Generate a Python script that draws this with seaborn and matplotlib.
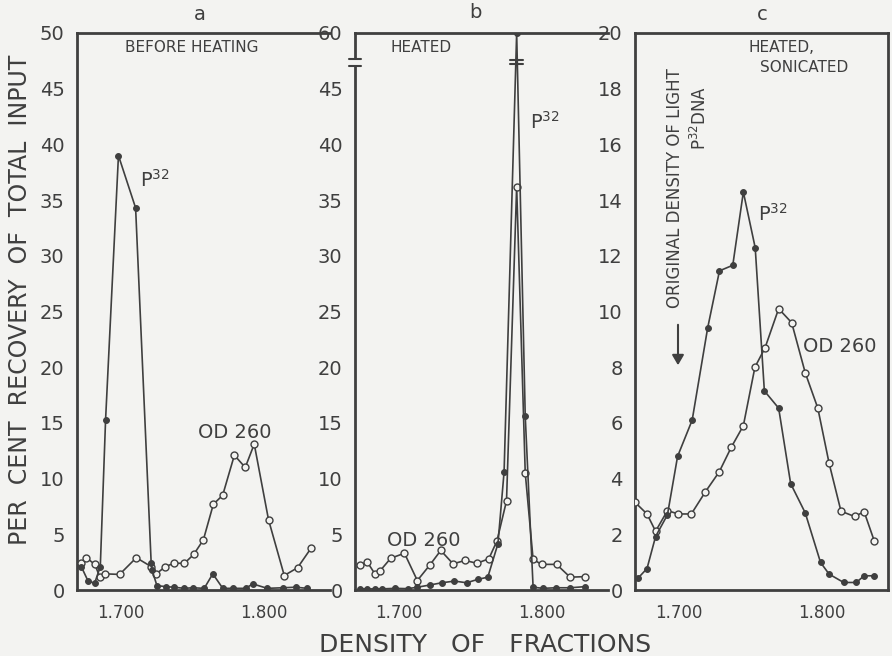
import numpy as np
import pandas as pd
import matplotlib
matplotlib.use("Agg")
import matplotlib.pyplot as plt
import seaborn as sns

# ---------------- data ----------------
# panel a: before heating
a_p32_x = [1.672, 1.6766, 1.6813, 1.6853, 1.689, 1.698, 1.710, 1.7209, 1.7215, 1.7249,
           1.731, 1.737, 1.744, 1.750, 1.758, 1.764, 1.771, 1.778, 1.787, 1.792,
           1.802, 1.813, 1.822, 1.830]
a_p32_y = [2.1, 0.84, 0.6, 2.1, 15.3, 39.0, 34.3, 2.4, 1.8, 0.4,
           0.3, 0.25, 0.15, 0.2, 0.15, 1.45, 0.15, 0.15, 0.15, 0.55,
           0.15, 0.2, 0.25, 0.15]
a_od_x = [1.672, 1.6756, 1.6814, 1.6849, 1.6884, 1.6988, 1.7105, 1.7209, 1.7244, 1.7309,
          1.7367, 1.7442, 1.7507, 1.7574, 1.7644, 1.7709, 1.7791, 1.7867, 1.7930, 1.8030,
          1.8140, 1.8233, 1.8330]
a_od_y = [2.4, 2.9, 2.3, 1.2, 1.45, 1.4, 2.9, 2.1, 1.45, 2.1,
          2.4, 2.4, 3.2, 4.5, 7.7, 8.5, 12.1, 11.0, 13.1, 6.3,
          1.3, 2.0, 3.8]

# panel b: heated
b_p32_x = [1.6726, 1.6774, 1.6829, 1.6881, 1.6971, 1.706, 1.7126, 1.7214, 1.7298, 1.7386,
           1.7471, 1.7548, 1.7619, 1.769, 1.7733, 1.7821, 1.7881, 1.7936, 1.8005, 1.8095,
           1.8195, 1.8298]
b_p32_y = [0.1, 0.1, 0.1, 0.1, 0.15, 0.12, 0.25, 0.45, 0.65, 0.8,
           0.65, 0.95, 1.15, 4.15, 10.6, 60.0, 15.6, 0.25, 0.15, 0.2,
           0.2, 0.3]
b_od_x = [1.6726, 1.6774, 1.6829, 1.6864, 1.694, 1.7036, 1.7126, 1.7214, 1.729, 1.7376,
          1.746, 1.7543, 1.7626, 1.7683, 1.775, 1.7821, 1.7881, 1.7936, 1.7995, 1.810,
          1.8195, 1.8298]
b_od_y = [2.2, 2.55, 1.45, 1.7, 2.85, 3.3, 0.85, 2.25, 3.55, 2.35,
          2.65, 2.4, 2.8, 4.4, 8.0, 36.2, 10.5, 2.75, 2.3, 2.3,
          1.15, 1.2]

# panel c: heated, sonicated
c_p32_x = [1.671, 1.6774, 1.6834, 1.6917, 1.6988, 1.709, 1.7198, 1.7281, 1.7374, 1.7448,
           1.7531, 1.7595, 1.7695, 1.7779, 1.7881, 1.7988, 1.8048, 1.815, 1.8238, 1.8293,
           1.8364]
c_p32_y = [0.42, 0.77, 1.92, 2.7, 4.8, 6.1, 9.4, 11.46, 11.66, 14.29,
           12.29, 7.15, 6.53, 3.82, 2.77, 0.99, 0.57, 0.27, 0.27, 0.51,
           0.51]
c_od_x = [1.669, 1.6774, 1.6834, 1.6917, 1.6993, 1.7084, 1.7183, 1.7279, 1.7364, 1.7448,
          1.7529, 1.760, 1.7695, 1.7786, 1.7881, 1.7969, 1.8048, 1.8131, 1.8226, 1.8293,
          1.8364]
c_od_y = [3.15, 2.73, 2.11, 2.85, 2.73, 2.73, 3.53, 4.24, 5.13, 5.9,
          8.0, 8.7, 10.1, 9.6, 7.8, 6.53, 4.55, 2.83, 2.64, 2.81,
          1.76]

panel_letters = ["a", "b", "c"]
panel_titles = ["BEFORE HEATING", "HEATED", "HEATED,", "SONICATED"]
x_ticklabels = ["1.700", "1.800"]
y_label = "PER  CENT  RECOVERY  OF  TOTAL  INPUT"
x_label = "DENSITY   OF   FRACTIONS"

# ---------------- style ----------------
sns.set_theme(style="white")
BG = "#f3f3f1"
INK = "#3f3f3f"
plt.rcParams["font.family"] = ["DejaVu Sans"]
plt.rcParams["mathtext.fontset"] = "dejavusans"
plt.rcParams["text.color"] = INK
plt.rcParams["axes.edgecolor"] = INK
plt.rcParams["xtick.color"] = INK
plt.rcParams["ytick.color"] = INK

W, H = 892, 656
fig = plt.figure(figsize=(W / 100, H / 100), dpi=100, facecolor=BG)

bottom_px, top_px = 590, 33
def rect(left_px, width_px):
    return [left_px / W, (H - bottom_px) / H, width_px / W, (bottom_px - top_px) / H]

ax_a = fig.add_axes(rect(77, 253))
ax_b = fig.add_axes(rect(355, 253))
ax_c = fig.add_axes(rect(635, 253))
axes = [ax_a, ax_b, ax_c]

XLIM = (1.669, 1.846)

def draw(ax, px, py, ox, oy):
    sns.lineplot(x=ox, y=oy, ax=ax, sort=False, estimator=None, color=INK, lw=1.2,
                 marker="o", markersize=5, markerfacecolor=BG, markeredgecolor=INK,
                 markeredgewidth=1.0, zorder=3)
    sns.lineplot(x=px, y=py, ax=ax, sort=False, estimator=None, color=INK, lw=1.2,
                 marker="o", markersize=4.2, markerfacecolor=INK, markeredgecolor=INK,
                 zorder=4)

draw(ax_a, a_p32_x, a_p32_y, a_od_x, a_od_y)

# panel b uses a broken axis: 45 -> 60 compressed
def fwd(v):
    v = np.asarray(v, dtype=float)
    return np.where(v <= 45, v, 45 + (v - 45) / 3.0)
def inv(v):
    v = np.asarray(v, dtype=float)
    return np.where(v <= 45, v, 45 + (v - 45) * 3.0)
ax_b.set_yscale("function", functions=(fwd, inv))
draw(ax_b, b_p32_x, b_p32_y, b_od_x, b_od_y)
draw(ax_c, c_p32_x, c_p32_y, c_od_x, c_od_y)

for ax in axes:
    ax.set_facecolor(BG)
    ax.set_xlim(*XLIM)
    ax.set_xlabel("")
    ax.set_ylabel("")
    for s in ax.spines.values():
        s.set_linewidth(2.0)
        s.set_color(INK)
    ax.spines["right"].set_visible(False)
    ax.xaxis.set_ticks([1.70, 1.80])
    ax.set_xticklabels(x_ticklabels, fontsize=12)
    ax.xaxis.set_minor_locator(matplotlib.ticker.FixedLocator(
        [1.67 + 0.01 * i for i in range(18) if i not in (3, 13)]))
    ax.tick_params(axis="x", which="major", direction="out", length=7, width=1.6, pad=3)
    ax.tick_params(axis="x", which="minor", direction="out", length=4, width=1.4)
    ax.tick_params(axis="y", which="major", direction="out", length=8, width=1.6,
                   labelsize=14, pad=1)
    ax.tick_params(axis="y", which="minor", length=0)

ax_c.spines["right"].set_visible(True)

ax_a.set_ylim(0, 50)
ax_a.set_yticks(list(range(0, 51, 5)))
ax_a.set_yticklabels([str(v) for v in range(0, 51, 5)])

ax_b.set_ylim(0, 60)
ax_b.set_yticks(list(range(0, 46, 5)) + [60])
ax_b.set_yticklabels([str(v) for v in list(range(0, 46, 5)) + [60]])

ax_c.set_ylim(0, 20)
ax_c.set_yticks(list(range(0, 21, 2)))
ax_c.set_yticklabels([str(v) for v in range(0, 21, 2)])

# axis break marks for panel b
brk_y = fwd(52.0) / 50.0
ax_b.add_patch(plt.Rectangle((-0.03, brk_y - 0.006), 0.06, 0.012, transform=ax_b.transAxes,
                             facecolor=BG, edgecolor="none", clip_on=False, zorder=5))
for dy in (-0.006, 0.006):
    ax_b.plot([-0.025, 0.025], [brk_y + dy] * 2, transform=ax_b.transAxes, color=INK,
              lw=1.5, clip_on=False, zorder=6)
peak_x = b_p32_x[int(np.argmax(b_p32_y))]
for yy in (51.6, 52.6):
    ax_b.plot([peak_x - 0.0045, peak_x + 0.0045], [yy, yy], color=INK, lw=1.5, zorder=6)

# ---------------- annotations ----------------
def ftext(xp, yp, s, **kw):
    fig.text(xp / W, 1 - yp / H, s, **kw)

for xp, yp, s in zip([200, 475, 762], [14, 12, 14], panel_letters):
    ftext(xp, yp, s, fontsize=14, ha="center", va="center", color=INK)

ftext(192, 48, panel_titles[0], fontsize=11, ha="center", va="center")
ftext(421, 47, panel_titles[1], fontsize=11, ha="center", va="center")
ftext(748, 47, panel_titles[2], fontsize=11, ha="left", va="center")
ftext(760, 68, panel_titles[3], fontsize=11, ha="left", va="center")

for xp, yp in [(155, 180), (545, 122), (773, 214)]:
    ftext(xp, yp, r"P$^{32}$", fontsize=14, ha="center", va="center")
for xp, yp in [(235, 432), (424, 540), (840, 347)]:
    ftext(xp, yp, "OD 260", fontsize=14, ha="center", va="center")

ftext(675, 188, "ORIGINAL DENSITY OF LIGHT", fontsize=12, rotation=90,
      ha="center", va="center")
ftext(700, 118, r"P$^{32}$DNA", fontsize=12, rotation=90, ha="center", va="center")
fig.add_artist(matplotlib.patches.FancyArrowPatch(
    (678 / W, 1 - 322 / H), (678 / W, 1 - 368 / H), transform=fig.transFigure,
    arrowstyle="-|>,head_length=6,head_width=3.5", color=INK, lw=1.5))

ftext(20, 300, y_label, fontsize=17, rotation=90, ha="center", va="center")
ftext(485, 645, x_label, fontsize=18, ha="center", va="center")

fig.savefig("out.png", dpi=100, facecolor=BG)
